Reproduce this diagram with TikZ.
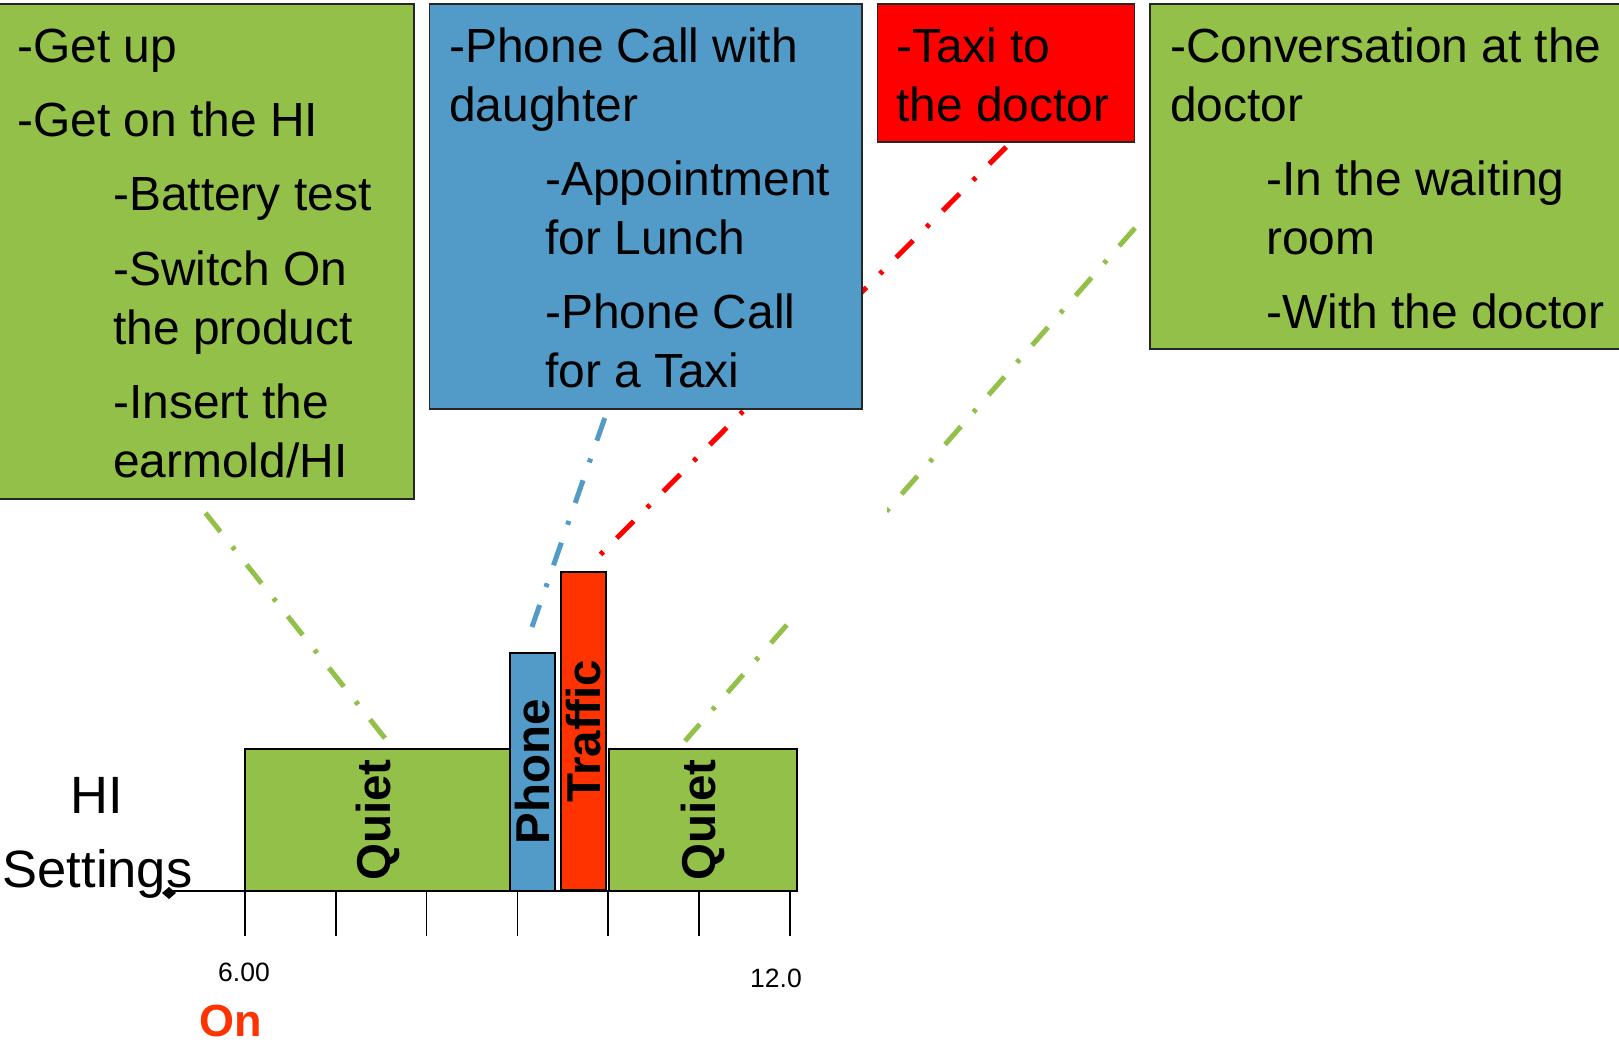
\documentclass[tikz,border=0pt]{standalone}
\usepackage{fontspec}
\setmainfont{Liberation Sans}
\usetikzlibrary{calc}

\definecolor{hiGreen}{RGB}{146,192,72}
\definecolor{hiBlue}{RGB}{82,155,200}
\definecolor{hiRed}{RGB}{255,0,0}
\definecolor{hiOrange}{RGB}{255,51,0}

\newcommand{\sublvl}{\hspace*{96pt}}

\begin{document}
\begin{tikzpicture}[x=1pt,y=-1pt,
  card/.style={draw=black!85, line width=1.3pt, anchor=north west, inner sep=0pt, outer sep=0pt},
  cardtext/.style={anchor=north west, align=left, inner sep=0pt, font=\fontsize{47.9}{58.9}\selectfont},
  bar/.style={draw=black, line width=1.5pt, rotate=90, inner sep=0pt, outer sep=0pt, font=\bfseries\fontsize{47.5}{50}\selectfont},
  link/.style={line width=5pt, dash pattern=on 24pt off 19pt on 4pt off 19pt},
  axtick/.style={line width=1.5pt}]

\useasboundingbox (0,0) rectangle (1619,1043);

% Define boxes (drawn later, coordinates needed for the links)
\path (-3,4) coordinate (wake nw) (429.5,4) coordinate (call nw)
      (877.7,4) coordinate (taxi nw) (1150,4) coordinate (visit nw);

% Free ends of the links, just above the bars
\coordinate (quiet tip) at (388,742);
\coordinate (phone tip) at (532,627);
\coordinate (traffic tip) at (599,556);
\coordinate (doctor tip) at (685,741);

% Activity boxes
\node[card, fill=hiGreen, minimum width=417, minimum height=495] (wake) at (wake nw) {};
\node[card, fill=hiRed, minimum width=257, minimum height=138] (taxi) at (taxi nw) {};
\node[card, fill=hiGreen, minimum width=480, minimum height=345] (visit) at (visit nw) {};

% Links from the boxes down to the bars
\draw[link, hiGreen] ($(wake.south)+(0,14)$) -- (quiet tip);
\draw[link, hiRed] ($(taxi.south)+(0,5)$) -- (traffic tip);
\begin{scope}
  \clip (-10,-10) rectangle (797,1050) (887,-10) rectangle (1630,1050);
  \draw[link, hiGreen] ($(visit.west)+(-15,51.5)$) -- (doctor tip);
\end{scope}

% Blue box goes over the red link
\node[card, fill=hiBlue, minimum width=432.5, minimum height=405] (call) at (call nw) {};
\draw[link, hiBlue] ($(call.south)+(-41,9)$) -- (phone tip);

% Box texts
\node[cardtext] (wake text) at (17,20.8) {\strut-Get up\\[15.4pt]-Get on the HI\\[15.4pt]\sublvl-Battery test\\[15.4pt]\sublvl-Switch On\\\sublvl the product\\[15.4pt]\sublvl-Insert the\\\sublvl earmold/HI};
\node[cardtext] (call text) at (449,20.8) {\strut-Phone Call with\\daughter\\[15.4pt]\sublvl-Appointment\\\sublvl for Lunch\\[15.4pt]\sublvl-Phone Call\\\sublvl for a Taxi};
\node[cardtext] (taxi text) at (896,20.8) {\strut-Taxi to\\the doctor};
\node[cardtext] (visit text) at (1170,20.8) {\strut-Conversation at the\\doctor\\[15.4pt]\sublvl-In the waiting\\\sublvl room\\[15.4pt]\sublvl-With the doctor};

% Settings bars (rotated, so width is the bar height)
\node[bar, fill=hiGreen, minimum width=142, minimum height=265] (quiet1) at (377.5,820) {Quiet};
\node[bar, fill=hiBlue, minimum width=238, minimum height=45] (phone) at (532.5,772) {Phone};
\node[bar, fill=hiOrange, minimum width=318, minimum height=45] (traffic) at (583.5,731) {Traffic};
\node[bar, fill=hiGreen, minimum width=142, minimum height=188] (quiet2) at (703,820) {Quiet};

% Time axis
\coordinate (origin) at (170,891);
\draw[line width=1.5pt] (origin) -- (797,891);
\foreach \k in {0,...,6}
  \draw[axtick] ({245+90.8*\k},891) -- ++(0,45);
\fill (origin) ++(-1,2) +(-7,0) -- +(0,-6) -- +(7,0) -- +(0,6) -- cycle;

% Axis labels
\node[inner sep=0pt, anchor=base, font=\fontsize{26.5}{30}\selectfont] (six) at (244,981) {6.00};
\node[inner sep=0pt, anchor=base west, font=\fontsize{26.5}{30}\selectfont] (twelve) at (750,987) {12.0};
\node[inner sep=0pt, anchor=base, text=hiOrange, font=\bfseries\fontsize{45}{50}\selectfont] (on) at (231,1036) {On};
\node[inner sep=0pt, anchor=base, font=\fontsize{52.5}{60}\selectfont] (hi) at (97,813) {HI};
\node[inner sep=0pt, anchor=base, font=\fontsize{52.5}{60}\selectfont] (settings) at (97.5,887) {Settings};

\end{tikzpicture}
\end{document}
